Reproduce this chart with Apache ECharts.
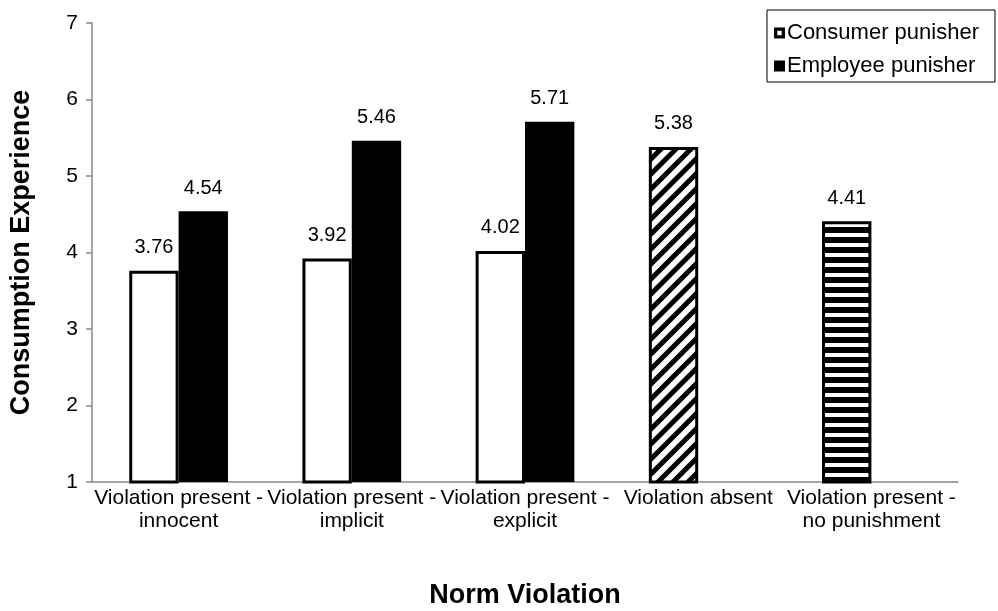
<!DOCTYPE html>
<html>
<head>
<meta charset="utf-8">
<style>
  html, body { margin: 0; padding: 0; background: #fff; }
  #chart { width: 998px; height: 611px; }
</style>
<script src="https://cdn.jsdelivr.net/npm/echarts@6/dist/echarts.min.js"></script>
</head>
<body>
<div id="chart"></div>
<script>
// Categories of the norm-violation condition
const categories = [
  'Violation present -\ninnocent',
  'Violation present -\nimplicit',
  'Violation present -\nexplicit',
  'Violation absent',
  'Violation present -\nno punishment'
];
// Mean consumption experience per condition
const consumerPunisher = [3.76, 3.92, 4.02, 5.38, 4.41];
const employeePunisher = [4.54, 5.46, 5.71, null, null];
// Fill style of the single-bar conditions ('plain' = white fill)
const consumerFill = ['plain', 'plain', 'plain', 'diagonal', 'horizontal'];
const seriesNames = ['Consumer punisher', 'Employee punisher'];
const yTicks = { min: 1, max: 7, step: 1 };

const FONT = 'Liberation Sans, Arial, sans-serif';

// Tiles for the patterned bars
function diagonalTile() {
  const s = 15;
  const c = document.createElement('canvas');
  c.width = s; c.height = s;
  const g = c.getContext('2d');
  g.fillStyle = '#fff';
  g.fillRect(0, 0, s, s);
  g.strokeStyle = '#000';
  g.lineWidth = 5;
  g.beginPath();
  for (let k = -1; k <= 1; k++) {
    g.moveTo(k * s - 2, s + 2);
    g.lineTo(k * s + s + 2, -2);
  }
  g.stroke();
  return c;
}
function horizontalTile() {
  const c = document.createElement('canvas');
  c.width = 10; c.height = 10;
  const g = c.getContext('2d');
  g.fillStyle = '#000';
  g.fillRect(0, 0, 10, 10);
  g.fillStyle = '#fff';
  g.fillRect(0, 3, 10, 4);
  return c;
}
const fills = {
  plain: '#ffffff',
  diagonal: { image: diagonalTile(), repeat: 'repeat' },
  horizontal: { image: horizontalTile(), repeat: 'repeat' }
};

// Legend markers: hollow square frame and solid square
const frameIcon = 'path://M0 0H10V10H0Z M3 3V7H7V3Z';
const solidIcon = 'rect';

const valueLabel = {
  show: true,
  position: 'top',
  distance: 13,
  color: '#000',
  fontSize: 20,
  fontFamily: FONT,
  formatter: p => (p.value == null ? '' : Number(p.value).toFixed(2))
};

const consumerData = consumerPunisher.map((v, i) => ({
  value: v,
  itemStyle: { color: fills[consumerFill[i]] }
}));

const chart = echarts.init(document.getElementById('chart'), null, { renderer: 'canvas' });
chart.setOption({
  animation: false,
  backgroundColor: '#fff',
  textStyle: { fontFamily: FONT },
  grid: {
    left: 92, right: 40, top: 23, bottom: 129,
    containLabel: false,
    outerBoundsMode: 'none'
  },
  legend: {
    orient: 'vertical',
    left: 767,
    top: 10,
    padding: [12, 16, 5, 7],
    itemGap: 11,
    itemWidth: 11,
    itemHeight: 11,
    borderColor: '#000',
    borderWidth: 1,
    textStyle: { fontSize: 22, color: '#000', fontFamily: FONT, padding: [0, 0, 0, -3] },
    data: [
      { name: seriesNames[0], icon: frameIcon, itemStyle: { color: '#000', borderWidth: 0 } },
      { name: seriesNames[1], icon: solidIcon, itemStyle: { color: '#000', borderWidth: 0 } }
    ]
  },
  xAxis: {
    type: 'category',
    data: categories,
    name: 'Norm Violation',
    nameLocation: 'middle',
    nameGap: 100,
    nameTextStyle: { fontSize: 27, fontWeight: 'bold', color: '#000', fontFamily: FONT },
    axisLine: { lineStyle: { color: '#888', width: 1.5 } },
    axisTick: { show: false },
    axisLabel: {
      interval: 0,
      margin: 5,
      fontSize: 21,
      lineHeight: 23,
      color: '#000',
      fontFamily: FONT
    }
  },
  yAxis: {
    type: 'value',
    min: yTicks.min,
    max: yTicks.max,
    interval: yTicks.step,
    name: 'Consumption Experience',
    nameLocation: 'middle',
    nameGap: 57,
    nameTextStyle: { fontSize: 27, fontWeight: 'bold', color: '#000', fontFamily: FONT },
    axisLine: { show: true, lineStyle: { color: '#888', width: 1.5 } },
    axisTick: { show: true, length: 6, lineStyle: { color: '#888', width: 1.5 } },
    axisLabel: { fontSize: 21, color: '#000', margin: 14, fontFamily: FONT },
    splitLine: { show: false }
  },
  series: [
    {
      name: seriesNames[0],
      type: 'bar',
      barGap: '0%',
      barCategoryGap: '43%',
      data: consumerData,
      itemStyle: { color: '#fff', borderColor: '#000', borderWidth: 3 },
      label: valueLabel
    },
    {
      name: seriesNames[1],
      type: 'bar',
      data: employeePunisher,
      itemStyle: { color: '#000', borderColor: '#000', borderWidth: 0 },
      label: valueLabel
    }
  ]
});
</script>
</body>
</html>
